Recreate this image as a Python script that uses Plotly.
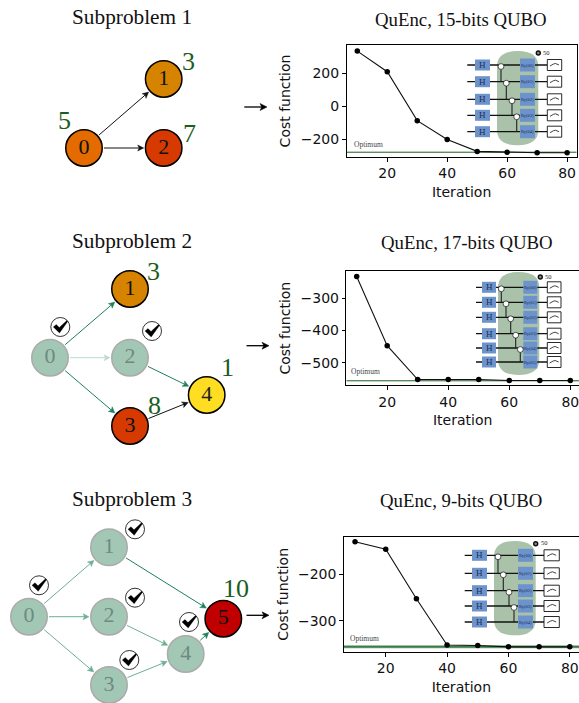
import plotly.graph_objects as go

W, H = 579, 703
SERIF = "Liberation Serif"
SANS = "DejaVu Sans"
GREEN = "#1B5E20"

# ---------- data ----------
iterations = [10, 20, 30, 40, 50, 60, 70, 80]
cost_15 = [335, 210, -86, -200, -272, -278, -280, -280]
cost_17 = [-232, -447, -552, -552, -552, -555, -555, -555]
cost_9 = [-131, -147, -253, -352, -353, -356, -356, -356]
optimum_15 = -277
optimum_17 = -556
optimum_9 = -356
ticks_15 = [200, 0, -200]
ticks_17 = [-300, -400, -500]
ticks_9 = [-200, -300]
x_ticks = [20, 40, 60, 80]
chart_titles = ["QuEnc, 15-bits QUBO", "QuEnc, 17-bits QUBO", "QuEnc, 9-bits QUBO"]
panel_titles = ["Subproblem 1", "Subproblem 2", "Subproblem 3"]
node_labels_1 = ["0", "1", "2"]
node_labels_2 = ["0", "1", "2", "3", "4"]
node_labels_3 = ["0", "1", "2", "3", "4", "5"]

# ---------- layout geometry (pixels) ----------
charts = [
    dict(l=346.5, r=576.7, t=45, b=157, xr=[6.4, 83.2], yr=[-306, 372], y=cost_15, opt=optimum_15, ticks=ticks_15, mirror=True),
    dict(l=346.3, r=579, t=271, b=385.3, xr=[6.6, 82.85], yr=[-570, -215], y=cost_17, opt=optimum_17, ticks=ticks_17, mirror=False),
    dict(l=343.7, r=579, t=536.7, b=652, xr=[6.3, 83.0], yr=[-367, -120], y=cost_9, opt=optimum_9, ticks=ticks_9, mirror=False),
]

fig = go.Figure()
shapes, annots = [], []
layout = {}

for i, c in enumerate(charts):
    n = i + 1
    xa, ya = f"x{n}", f"y{n}"
    if i == 2:
        fig.add_trace(go.Scatter(x=c["xr"], y=[c["opt"], c["opt"]], mode="lines", xaxis=xa, yaxis=ya,
                                 line=dict(color="#7FAF8C", width=3), showlegend=False, hoverinfo="skip"))
    fig.add_trace(go.Scatter(x=c["xr"], y=[c["opt"], c["opt"]], mode="lines", xaxis=xa, yaxis=ya,
                             line=dict(color=GREEN, width=1), showlegend=False, hoverinfo="skip"))
    fig.add_trace(go.Scatter(x=iterations, y=c["y"], mode="lines+markers", xaxis=xa, yaxis=ya,
                             line=dict(color="#111111", width=1.1),
                             marker=dict(color="#000000", size=5.5), showlegend=False))
    layout[f"xaxis{n}"] = dict(
        domain=[c["l"] / W, c["r"] / W], range=c["xr"], anchor=ya, tickvals=x_ticks,
        ticks="outside", ticklen=3.5, tickwidth=0.8, tickcolor="#000", showgrid=False, zeroline=False,
        showline=True, linecolor="#000", linewidth=1, mirror=True, ticklabeloverflow="allow",
        tickfont=dict(family=SANS, size=14, color="#111"),
        title=dict(text="Iteration", font=dict(family=SANS, size=14, color="#111"), standoff=6))
    layout[f"yaxis{n}"] = dict(
        domain=[1 - c["b"] / H, 1 - c["t"] / H], range=c["yr"], anchor=xa, tickvals=c["ticks"],
        ticks="outside", ticklen=3.5, tickwidth=0.8, tickcolor="#000", showgrid=False, zeroline=False,
        showline=True, linecolor="#000", linewidth=1, mirror=c["mirror"],
        tickfont=dict(family=SANS, size=14, color="#111"),
        title=dict(text="Cost function", font=dict(family=SANS, size=14, color="#111"), standoff=6))

layout["xaxis4"] = dict(domain=[0, 1], range=[0, W], visible=False, fixedrange=True, anchor="y4")
layout["yaxis4"] = dict(domain=[0, 1], range=[H, 0], visible=False, fixedrange=True, anchor="x4")


def text(x, y, s, size, color="#111", family=SERIF, anchor="center"):
    annots.append(dict(x=x, y=y, xref="x4", yref="y4", text=s, showarrow=False, xanchor=anchor, yanchor="middle",
                       font=dict(family=family, size=size, color=color)))


def shape(kind, **kw):
    shapes.append(dict(type=kind, xref="x4", yref="y4", layer="above", **kw))


def arrow(x0, y0, x1, y1, color="#111", w=1.0, size=6.0):
    d = ((x1 - x0) ** 2 + (y1 - y0) ** 2) ** 0.5
    ux, uy = (x1 - x0) / d, (y1 - y0) / d
    bx, by = x1 - ux * size, y1 - uy * size
    shape("line", x0=x0, y0=y0, x1=x1 - ux * 2, y1=y1 - uy * 2, line=dict(color=color, width=w))
    hw = size * 0.5
    nx, ny = -uy * hw, ux * hw
    mx, my = x1 - ux * size * 0.75, y1 - uy * size * 0.75
    shape("path", path=f"M{x1:.1f},{y1:.1f} L{bx+nx:.1f},{by+ny:.1f} L{mx:.1f},{my:.1f} L{bx-nx:.1f},{by-ny:.1f} Z",
          fillcolor=color, line=dict(color=color, width=0.5))


def check(x, y):
    shape("circle", x0=x - 9.5, x1=x + 9.5, y0=y - 9.5, y1=y + 9.5, fillcolor="#fff", line=dict(color="#000", width=0.8))
    pts = [(-7, 0), (-4, -2.5), (-1, 0.5), (6.5, -6.5), (7.5, -5.5), (-0.8, 6)]
    p = "M" + " L".join(f"{x+a:.1f},{y+b:.1f}" for a, b in pts) + " Z"
    shape("path", path=p, fillcolor="#000", line=dict(color="#000", width=0.3))


def nodes(xs, ys, labels, fills, borders, tcolors):
    fig.add_trace(go.Scatter(
        x=xs, y=ys, mode="markers+text", xaxis="x4", yaxis="y4", text=labels, textposition="middle center",
        textfont=dict(family=SERIF, size=22, color=tcolors),
        marker=dict(size=36.5, color=fills, line=dict(color=borders, width=1.5), opacity=1),
        showlegend=False, hoverinfo="skip"))


def edge(a, b, pos, color, r=20, w=1.0):
    (x0, y0), (x1, y1) = pos[a], pos[b]
    d = ((x1 - x0) ** 2 + (y1 - y0) ** 2) ** 0.5
    ux, uy = (x1 - x0) / d, (y1 - y0) / d
    arrow(x0 + ux * r, y0 + uy * r, x1 - ux * r, y1 - uy * r, color, w)


DONE = "#A3C7B5"
DONE_B = "#ABABAB"
DONE_T = "#6E8A80"
DARK = "#1E7F5C"
LIGHT = "#6DAF94"
PALE = "#B9DACD"

# panel 1
pos = [(84, 148), (163.7, 79), (163.7, 148)]
edge(0, 1, pos, "#111")
edge(0, 2, pos, "#111")
# panel 2
pos2 = [(50, 357.7), (130, 289), (130, 357.7), (130, 426), (206.7, 395)]
edge(0, 1, pos2, DARK)
edge(0, 2, pos2, PALE)
edge(0, 3, pos2, DARK)
edge(2, 4, pos2, DARK)
edge(3, 4, pos2, "#111")
# panel 3
pos3 = [(29, 616.7), (109, 547.3), (109, 616.7), (109, 685), (185.7, 654), (223.3, 618.7)]
edge(0, 1, pos3, LIGHT)
edge(0, 2, pos3, LIGHT)
edge(0, 3, pos3, LIGHT)
edge(2, 4, pos3, LIGHT)
edge(3, 4, pos3, LIGHT)
edge(1, 5, pos3, DARK)
edge(4, 5, pos3, DARK)

nodes([p[0] for p in pos], [p[1] for p in pos], node_labels_1,
      ["#E36B00", "#D68400", "#D63A00"], ["#000"] * 3, ["#111"] * 3)
nodes([p[0] for p in pos2], [p[1] for p in pos2], node_labels_2,
      [DONE, "#D68400", DONE, "#D63A00", "#FFDD22"],
      [DONE_B, "#000", DONE_B, "#000", "#000"], [DONE_T, "#111", DONE_T, "#111", "#222"])
nodes([p[0] for p in pos3], [p[1] for p in pos3], node_labels_3,
      [DONE] * 5 + ["#C00000"], [DONE_B] * 5 + ["#000"], [DONE_T] * 5 + ["#111"])

# big arrows between panels
arrow(244.3, 107, 267, 107, "#000", 1.3, 7)
arrow(246.5, 345.7, 269, 345.7, "#000", 1.3, 7)
arrow(246.5, 615.3, 269, 615.3, "#000", 1.3, 7)

# weights
for x, y, s in [(64, 120.7, "5"), (188, 61.7, "3"), (189, 133, "7"), (153.7, 271, "3"), (154, 405, "8"),
                (227, 367.7, "1"), (236, 588, "10")]:
    text(x, y, s, 26, GREEN)

# checks
for x, y in [(60.3, 327), (152, 331), (39, 585.3), (135, 529.3), (135, 597.7), (129.3, 660), (189, 622)]:
    check(x, y)

# titles
for x, y, s in [(132, 17.3, panel_titles[0]), (132, 240.7, panel_titles[1]), (132, 499.3, panel_titles[2])]:
    text(x, y, s, 21.3)
for x, y, s in [(461, 19.3, chart_titles[0]), (467.3, 242.3, chart_titles[1]), (461.3, 500, chart_titles[2])]:
    text(x, y, s, 18.8)

# optimum labels
for x, y in [(351.5, 144.3), (349, 371), (347.5, 638)]:
    text(x, y, "Optimum", 7.5, "#444", anchor="left")


# circuit insets
def circuit(oval, wires, wx, hx, rx, mx, cx, loop):
    x0, x1, y0, y1 = oval
    rad = (x1 - x0) / 2
    p = (f"M{x0},{y0+rad*0.75} Q{x0},{y0} {(x0+x1)/2},{y0} Q{x1},{y0} {x1},{y0+rad*0.75} "
         f"L{x1},{y1-rad*0.75} Q{x1},{y1} {(x0+x1)/2},{y1} Q{x0},{y1} {x0},{y1-rad*0.75} Z")
    shape("path", path=p, fillcolor="#ABC2AA", line=dict(width=0))
    for y in wires:
        shape("line", x0=wx[0], x1=wx[1], y0=y, y1=y, line=dict(color="#111", width=1.3))
    for k, x in enumerate(cx):
        shape("line", x0=x, x1=x, y0=wires[k], y1=wires[k + 1], line=dict(color="#222", width=1.1))
    for k, y in enumerate(wires):
        shape("rect", x0=hx[0], x1=hx[1], y0=y - 5.5, y1=y + 5.5, fillcolor="#6C93CB", line=dict(width=0))
        shape("rect", x0=rx[0], x1=rx[1], y0=y - 6.5, y1=y + 6.5, fillcolor="#6C93CB", line=dict(width=0))
        shape("rect", x0=mx[0], x1=mx[1], y0=y - 5.5, y1=y + 5.5, fillcolor="#fff", line=dict(color="#111", width=0.9))
        mc = (mx[0] + mx[1]) / 2
        shape("path", path=f"M{mc-4.5},{y+1} L{mc-1},{y-1} L{mc+1},{y-1.5} L{mc+4.5},{y}", line=dict(color="#111", width=0.8))
        text((hx[0] + hx[1]) / 2, y, "H", 9, "#1A2F55")
        text((rx[0] + rx[1]) / 2, y, f"Ry(θ{k})", 4.5, "#1A2F55")
    for k, x in enumerate(cx):
        yc = wires[k] + 1.5
        shape("circle", x0=x - 2.9, x1=x + 2.9, y0=yc - 2.9, y1=yc + 2.9, fillcolor="#fff", line=dict(color="#111", width=0.7))
    lx, ly = loop
    shape("circle", x0=lx - 2, x1=lx + 2, y0=ly - 2, y1=ly + 2, fillcolor="#888", line=dict(color="#111", width=1.4))
    text(lx + 3, ly - 1, "50", 6.5, "#222", anchor="left")


circuit((497, 538.3, 51, 145.3), [65, 81.7, 99.3, 115.3, 131.7], (467.3, 547.3), (475, 490), (520, 535),
        (547.3, 561.7), [501, 506.3, 512, 516.7], (538.3, 53))
circuit((498, 539.3, 272, 375), [287.3, 302.3, 317.3, 333.7, 348, 362], (476, 547.3), (482, 496), (523.3, 537.3),
        (547.3, 561), [501.3, 506, 510.7, 515.7, 520.3], (540.3, 277))
circuit((494, 535.7, 541, 635.3), [555.3, 573.3, 590.7, 606, 622], (464.7, 544), (472, 487), (518, 533),
        (544, 559.3), [498, 503.3, 509, 514], (535.7, 543.7))

fig.update_layout(width=W, height=H, margin=dict(l=0, r=0, t=0, b=0), plot_bgcolor="rgba(0,0,0,0)",
                  paper_bgcolor="#fff", showlegend=False, shapes=shapes, annotations=annots, **layout)
fig.write_html("out.html", config=dict(displayModeBar=False),
               post_script="document.body.style.margin='0';document.body.style.overflow='hidden';")
